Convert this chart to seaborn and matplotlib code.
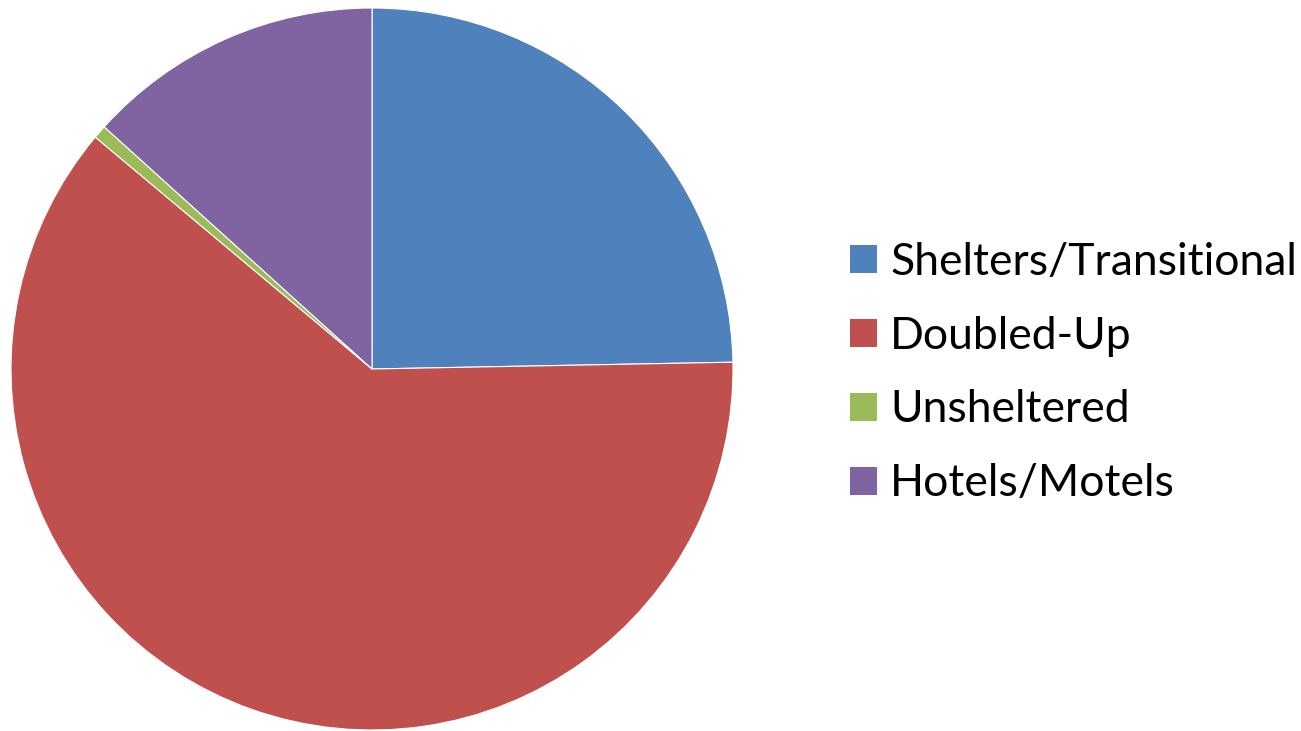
import matplotlib
matplotlib.use("Agg")
import matplotlib.pyplot as plt
from matplotlib.patches import Patch
import seaborn as sns

# Share of students by nighttime residence (percent)
categories = ["Shelters/Transitional", "Doubled-Up", "Unsheltered", "Hotels/Motels"]
shares = [24.7, 61.4, 0.6, 13.3]
colors = ["#4F81BD", "#C0504D", "#9BBB59", "#8064A2"]

sns.set_style("white")
plt.rcParams["font.family"] = ["Lato", "DejaVu Sans"]

W, H = 1301, 731
fig = plt.figure(figsize=(W / 100, H / 100), dpi=100)

cx, cy, r = 372, 369, 361
ax = fig.add_axes([(cx - r) / W, (H - cy - r) / H, 2 * r / W, 2 * r / H])
ax.pie(
    shares,
    colors=colors,
    startangle=90,
    counterclock=False,
    wedgeprops={"edgecolor": "white", "linewidth": 0.8},
)
ax.set_xlim(-1, 1)
ax.set_ylim(-1, 1)
ax.set_aspect("equal")
ax.axis("off")

handles = [Patch(facecolor=c, edgecolor="none") for c in colors]
fs = 32
leg = fig.legend(
    handles,
    categories,
    loc="center left",
    bbox_to_anchor=(850 / W, 1 - 373 / H),
    frameon=False,
    fontsize=fs,
    handlelength=0.6,
    handleheight=0.6,
    handletextpad=0.3,
    labelspacing=0.74,
    borderpad=0,
    borderaxespad=0,
)
for t in leg.get_texts():
    t.set_color("black")

fig.savefig("out.png", dpi=100, facecolor="white")
